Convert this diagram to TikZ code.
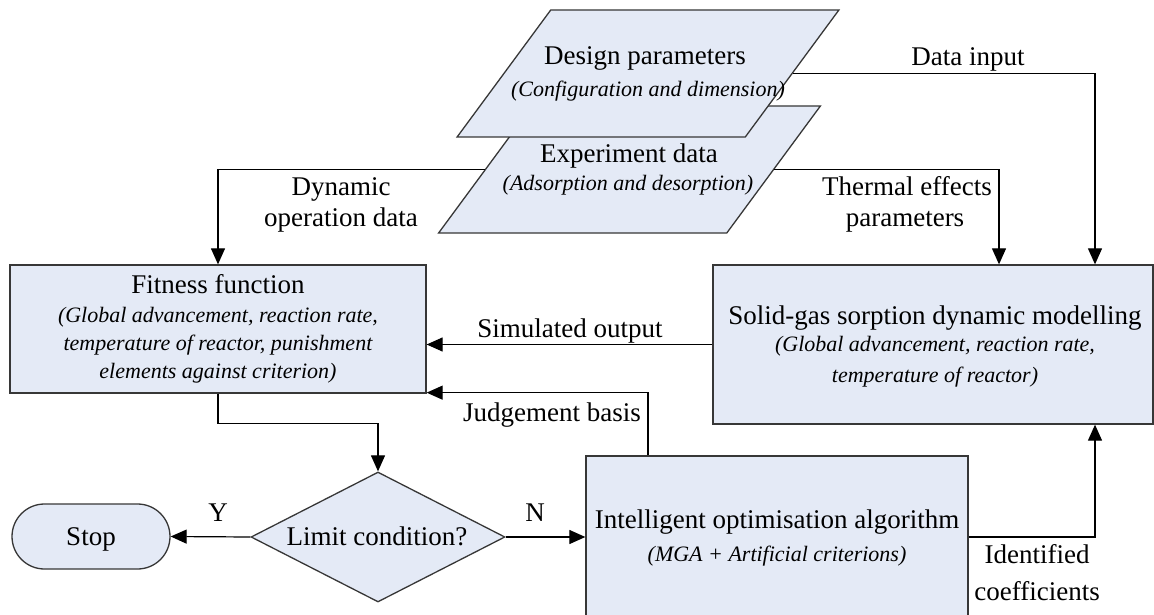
\documentclass[tikz,border=0pt]{standalone}
\usepackage{fontspec}
\setmainfont{Liberation Serif}
\usetikzlibrary{arrows.meta,shapes.geometric,shapes.misc}
\definecolor{boxfill}{RGB}{228,234,246}
\definecolor{boxline}{RGB}{55,55,55}
\begin{document}
\begin{tikzpicture}[x=1pt,y=-1pt,
  box/.style={draw=boxline, fill=boxfill, line width=1.3pt, inner sep=0pt, rectangle},
  para/.style={box, trapezium, inner sep=2pt, trapezium left angle=64.3, trapezium right angle=115.7,
    trapezium stretches=true, minimum width=382pt, minimum height=127pt},
  arr/.style={draw=black, line width=1.2pt, -{Triangle[length=16pt,width=14pt]}},
  lbl/.style={inner sep=0pt, anchor=base, font=\fontsize{27}{31}\selectfont},
  itl/.style={inner sep=0pt, anchor=base, font=\fontsize{22}{26}\selectfont\itshape}]
\useasboundingbox (0,0) rectangle (1154,615);

% shapes
\node[para] (exp) at (629.5,169.5) {};
\node[para] (des) at (648,73.5) {};
\node[box, minimum width=416pt, minimum height=128pt] (fit) at (218,329) {};
\node[box, minimum width=440pt, minimum height=159pt] (sgs) at (933,344.5) {};
\node[box, minimum width=382pt, minimum height=162pt] (ioa) at (777,537) {};
\node[box, diamond, inner sep=1pt, minimum width=254pt, minimum height=130pt] (dia) at (378,537) {};
\node[box, rounded rectangle, inner sep=1pt, minimum width=160pt, minimum height=65pt] (stop) at (91,536.5) {};

% texts in shapes
\node[lbl] (desT) at (645,65) {Design parameters};
\node[itl] (desI) at (648,97) {(Configuration and dimension)};
\node[lbl] (expT) at (629,162) {Experiment data};
\node[itl] (expI) at (628,190) {(Adsorption and desorption)};
\node[lbl] (fitT) at (218,293) {Fitness function};
\node[itl] (fitI1) at (218,322) {(Global advancement, reaction rate,};
\node[itl] (fitI2) at (218,350) {temperature of reactor, punishment};
\node[itl] (fitI3) at (218,378) {elements against criterion)};
\node[lbl] (sgsT) at (935,324) {Solid-gas sorption dynamic modelling};
\node[itl] (sgsI1) at (935,351) {(Global advancement, reaction rate,};
\node[itl] (sgsI2) at (935,382) {temperature of reactor)};
\node[lbl] (ioaT) at (777,528) {Intelligent optimisation algorithm};
\node[itl] (ioaI) at (777,561) {(MGA + Artificial criterions)};
\node[lbl] (diaT) at (377,545) {Limit condition?};
\node[lbl] (stopT) at (91,545) {Stop};

% connectors
\draw[arr] (des.east) -| ([xshift=162pt]sgs.north);
\draw[arr] (exp.east) -| ([xshift=66pt]sgs.north);
\draw[arr] (exp.west) -| (fit.north);
\draw[arr] (sgs.west) -- (sgs.west -| fit.east);
\draw[arr] ([xshift=-129pt]ioa.north) |- ([yshift=1pt]fit.south east);
\draw[arr] (fit.south) -- ++(0,30) -| (dia.north);
\draw[arr] (dia.west) -- (stop.east);
\draw[arr] (dia.east) -- (dia.east -| ioa.west);
\draw[arr] (ioa.east) -| ([xshift=162pt]sgs.south);

% connector labels
\node[lbl] (lData) at (968,66) {Data input};
\node[lbl] (lTh1) at (907,195) {Thermal effects};
\node[lbl] (lTh2) at (905,226) {parameters};
\node[lbl] (lDy1) at (341,195) {Dynamic};
\node[lbl] (lDy2) at (341,226) {operation data};
\node[lbl] (lSim) at (570,337) {Simulated output};
\node[lbl] (lJud) at (552,421) {Judgement basis};
\node[lbl] (lY) at (218,521) {Y};
\node[lbl] (lN) at (535,521) {N};
\node[lbl] (lId1) at (1037,563) {Identified};
\node[lbl] (lId2) at (1037,600) {coefficients};
\end{tikzpicture}
\end{document}
